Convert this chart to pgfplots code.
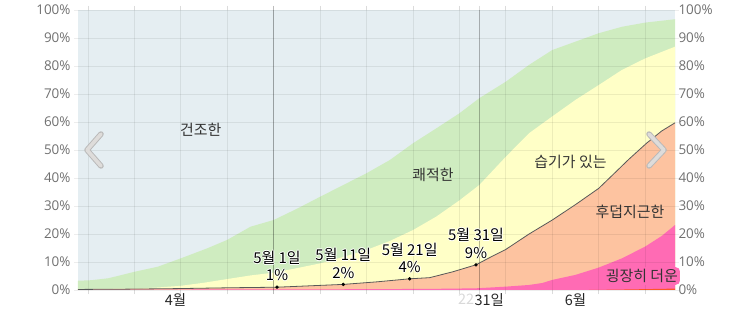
\documentclass[border=0pt]{standalone}
\usepackage{pgfplots}
\pgfplotsset{compat=1.18}
\usepackage{fontspec}
\setmainfont{Open Sans}
\newfontfamily\kr{Noto Sans CJK KR}

\definecolor{dry}{RGB}{229,238,242}
\definecolor{comfy}{RGB}{207,236,192}
\definecolor{humid}{RGB}{255,255,199}
\definecolor{muggy}{RGB}{253,195,160}
\definecolor{oppressive}{RGB}{255,107,180}
\definecolor{miserable}{RGB}{255,85,40}
\definecolor{ticktext}{RGB}{112,112,112}
\definecolor{labeltext}{RGB}{51,51,51}
\definecolor{chevfill}{RGB}{222,220,218}
\definecolor{chevedge}{RGB}{185,185,185}

% text with a soft white glow: position, baseline offset, text
\newcommand{\glowtext}[3]{%
  \node[datelbl,white,xshift=1bp,yshift=#2] at #1 {#3};
  \node[datelbl,white,xshift=-1bp,yshift=#2] at #1 {#3};
  \node[datelbl,white,yshift=1bp,yshift=#2] at #1 {#3};
  \node[datelbl,white,yshift=-1bp,yshift=#2] at #1 {#3};
  \node[datelbl,black,yshift=#2] at #1 {#3};
}

\tikzset{
  datelbl/.style={font=\kr\fontsize{15}{18}\selectfont, anchor=base, inner sep=0pt},
  arealbl/.style={font=\kr\fontsize{15}{18}\selectfont, text=labeltext, inner sep=0pt},
}

\pgfplotsset{
  chartbox/.style={
    at={(0,0)}, anchor=south west, scale only axis,
    width=597bp, height=280bp,
    xmin=1, xmax=91, ymin=0, ymax=100,
    axis line style={draw=none},
    ytick={0,10,...,100},
    yticklabels={0\%,10\%,20\%,30\%,40\%,50\%,60\%,70\%,80\%,90\%,100\%},
    yticklabel style={font=\fontsize{13.5}{16}\selectfont, text=ticktext},
  },
}

\begin{document}
\begin{tikzpicture}
\useasboundingbox (-78bp,-22bp) rectangle (675bp,290bp);

% stacked humidity comfort bands (cumulative shares, %)
\begin{axis}[
  chartbox,
  axis on top,
  tick align=outside,
  major tick length=4bp,
  ytick pos=both,
  yticklabel pos=left,
  ymajorgrids,
  xmajorgrids,
  xtick={2.5,9.5,...,86.5},
  xticklabels={},
  major grid style={black, opacity=0.07, line width=0.8bp},
  tick style={black, opacity=0.07, line width=0.8bp},
  xtick style={black, opacity=0.14},
  extra x ticks={30.5,61.5},
  extra x tick labels={},
  extra x tick style={grid=major, major grid style={black, opacity=0.28, line width=0.8bp}, tick style={black, opacity=0.28}},
]
% dry
\addplot[draw=none, fill=dry] coordinates {(1,100) (91,100)} \closedcycle;
% comfortable or more humid
\addplot[draw=none, fill=comfy] coordinates {
  (1,3.3) (3,3.5) (5.6,4.2) (9.5,6.5) (13,8.3) (16.5,11.3) (20.5,14.9)
  (23.5,17.9) (27,22.6) (30.5,25) (34,29) (37.5,33.3) (41,37.5) (44.5,41.7)
  (48,46.4) (51.5,52.4) (55,57.7) (58.5,63.1) (61.5,68.5) (65.5,74.4)
  (69,80.4) (72.5,85.7) (76,88.7) (79.5,91.7) (83,94) (86.5,95.5) (91,96.7)
} \closedcycle;
% humid or more
\addplot[draw=none, fill=humid] coordinates {
  (1,0.3) (5,0.4) (10.6,0.6) (13,0.9) (16.5,1.5) (20,2.6) (23.2,3.8) (27,5.2)
  (30.5,6.2) (34,7.8) (37.5,9.5) (41,11.8) (44.5,14.3) (48,17.5) (51.5,21.4)
  (55,26.2) (58.5,32) (61.5,37.5) (65.5,47.6) (69,56) (72.5,62) (76,67.9)
  (79.5,73.2) (83,78.6) (86.5,82.7) (91,86.9)
} \closedcycle;
% muggy or more
\addplot[draw=none, fill=muggy] coordinates {
  (1,0.2) (8,0.3) (16,0.5) (24,0.8) (31,1) (36,1.5) (41,2) (46,2.9) (51,4)
  (54,4.4) (57.5,6.5) (61,9) (63,11.5) (65.5,14.5) (69,20) (72.5,25)
  (76,30.5) (79.5,36.3) (82,42) (84,46.6) (86.7,52.4) (89,56.8) (91,59.7)
} \closedcycle;
% oppressive or more
\addplot[draw=none, fill=oppressive] coordinates {
  (1,0.15) (31,0.2) (46,0.3) (56,0.45) (61,0.6) (65.5,1.2) (69,1.8) (71,2.5)
  (72.5,3.6) (76,5.4) (79.5,8) (83,11.3) (86.5,15.5) (89,19.3) (91,23.2)
} \closedcycle;
% miserable
\addplot[draw=none, fill=miserable] coordinates {
  (1,0) (78,0) (84,0.2) (91,0.5)
} \closedcycle;
\end{axis}

% overlay: right-hand scale, boundary line, labels
\begin{axis}[
  chartbox,
  clip=false,
  yticklabel pos=right,
  ytick style={draw=none},
  xtick={15.7,63,76},
  xticklabels={4월,31일,6월},
  xtick style={draw=none},
  xticklabel style={font=\kr\fontsize{14.5}{17}\selectfont, text=black!85},
]
\addplot[color=black!65, line width=0.8bp] coordinates {
  (1,0.2) (8,0.3) (16,0.5) (24,0.8) (31,1) (36,1.5) (41,2) (46,2.9) (51,4)
  (54,4.4) (57.5,6.5) (61,9) (63,11.5) (65.5,14.5) (69,20) (72.5,25)
  (76,30.5) (79.5,36.3) (82,42) (84,46.6) (86.7,52.4) (89,56.8) (91,59.7)
};
\addplot[only marks, mark=*, mark size=1.5bp, color=black] coordinates {
  (31,1) (41,2) (51,4) (61,9)
};

\glowtext{(axis cs:31,1)}{23.8bp}{5월 1일}
\glowtext{(axis cs:31,1)}{6.4bp}{1\%}
\glowtext{(axis cs:41,2)}{23.8bp}{5월 11일}
\glowtext{(axis cs:41,2)}{6.4bp}{2\%}
\glowtext{(axis cs:51,4)}{23.8bp}{5월 21일}
\glowtext{(axis cs:51,4)}{6.4bp}{4\%}
\glowtext{(axis cs:61,9)}{23.8bp}{5월 31일}
\glowtext{(axis cs:61,9)}{6.4bp}{9\%}

\node[arealbl] at (axis cs:19.5,57.1) {건조한};
\node[arealbl] at (axis cs:54.5,41.1) {쾌적한};
\node[arealbl] at (axis cs:75.25,45.7) {습기가 있는};
\node[arealbl] at (axis cs:84.2,27.9) {후덥지근한};
\node[arealbl, fill=oppressive, rounded corners=4bp, inner xsep=2bp, inner ysep=2bp] at (axis cs:86,5) {굉장히 더운};

\node[font=\kr\fontsize{14.5}{17}\selectfont, text=black!15, anchor=north, inner sep=0pt, yshift=-4bp] at (axis cs:59.5,0) {22};

% scroll arrows
\draw[chevedge, line width=5.5bp, line cap=round, line join=round]
  (axis cs:4.47,55.7) -- (axis cs:2.36,50) -- (axis cs:4.47,44.3);
\draw[chevfill, line width=3.6bp, line cap=round, line join=round]
  (axis cs:4.47,55.7) -- (axis cs:2.36,50) -- (axis cs:4.47,44.3);
\draw[chevedge, line width=5.5bp, line cap=round, line join=round]
  (axis cs:87.08,55.7) -- (axis cs:89.35,50) -- (axis cs:87.08,44.3);
\draw[chevfill, line width=3.6bp, line cap=round, line join=round]
  (axis cs:87.08,55.7) -- (axis cs:89.35,50) -- (axis cs:87.08,44.3);
\end{axis}
\end{tikzpicture}
\end{document}
